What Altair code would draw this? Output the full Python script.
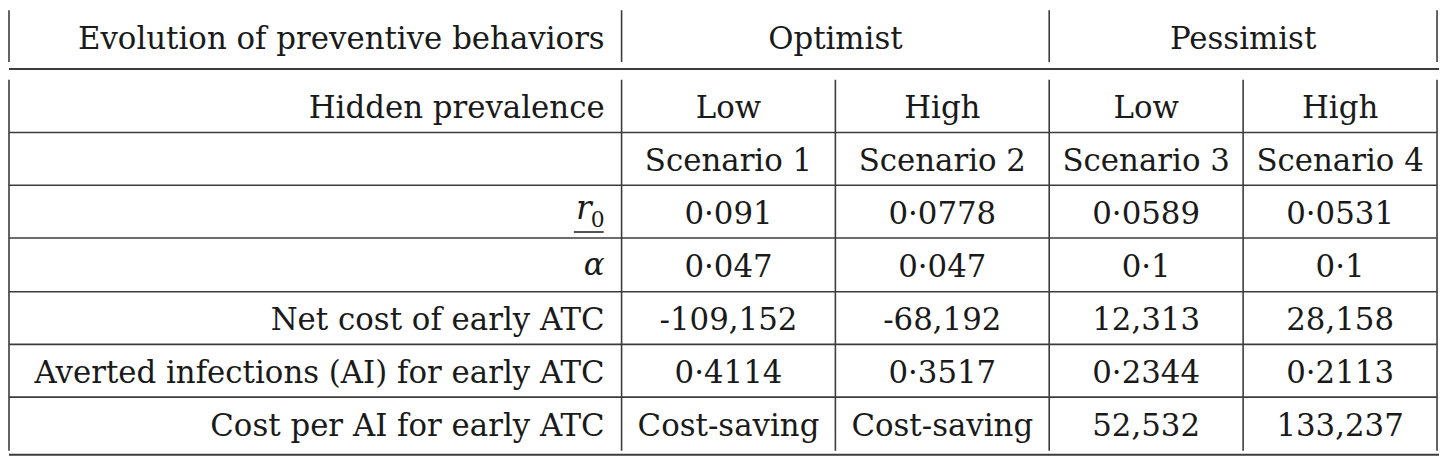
import altair as alt
import pandas as pd

# ---------------- data ----------------
header_title = "Evolution of preventive behaviors"
behavior_groups = ["Optimist", "Pessimist"]
prevalence_title = "Hidden prevalence"
prevalence = ["Low", "High", "Low", "High"]
scenarios = ["Scenario 1", "Scenario 2", "Scenario 3", "Scenario 4"]
r0_values = ["0·091", "0·0778", "0·0589", "0·0531"]
alpha_values = ["0·047", "0·047", "0·1", "0·1"]
net_cost_label = "Net cost of early ATC"
net_cost = ["-109,152", "-68,192", "12,313", "28,158"]
averted_label = "Averted infections (AI) for early ATC"
averted = ["0·4114", "0·3517", "0·2344", "0·2113"]
cost_per_ai_label = "Cost per AI for early ATC"
cost_per_ai = ["Cost-saving", "Cost-saving", "52,532", "133,237"]

# ---------------- layout (image pixel coordinates) ----------------
W, H = 1445, 450
col_edges = [5, 625, 840, 1055, 1250, 1445]
head_top, head_bot, head_rule = 9, 61, 68
row_edges = [79, 132, 185, 238, 292, 345, 398, 452]
bottom_rule = 456
label_right = 608
FONT = "DejaVu Serif"
FS = 31
TXT = "#1a1a1a"
LINE = "#3c3c3c"
cap_off = 12

xs = alt.Scale(domain=[8, 8 + W], nice=False, zero=False)
ys = alt.Scale(domain=[8, 8 + H], nice=False, zero=False, reverse=True)

# lines
rules = []
for x in [col_edges[0], col_edges[1], col_edges[3], col_edges[5]]:
    rules.append(dict(x=x, x2=x, y=head_top, y2=head_bot, w=1.6))
for x in col_edges:
    rules.append(dict(x=x, x2=x, y=row_edges[0], y2=row_edges[-1], w=1.6))
for y in row_edges[1:-1]:
    rules.append(dict(x=col_edges[0], x2=col_edges[-1], y=y, y2=y, w=1.6))
rules.append(dict(x=col_edges[0] - 1, x2=col_edges[-1] + 2, y=head_rule, y2=head_rule, w=2.0))
rules.append(dict(x=col_edges[0] - 1, x2=col_edges[-1] + 2, y=bottom_rule, y2=bottom_rule, w=2.0))
rules_df = pd.DataFrame(rules)
rules_df["x"] = rules_df["x"].clip(lower=9)
rules_df["x2"] = rules_df["x2"].clip(lower=9)

rule_layer = alt.Chart(rules_df).mark_rule(color=LINE).encode(
    x=alt.X("x:Q", scale=xs, axis=None),
    x2="x2:Q",
    y=alt.Y("y:Q", scale=ys, axis=None),
    y2="y2:Q",
    strokeWidth=alt.StrokeWidth("w:Q", scale=None),
)

# centered text cells
centers = [(col_edges[i] + col_edges[i + 1]) / 2 for i in range(1, 5)]
row_c = [(row_edges[i] + row_edges[i + 1]) / 2 for i in range(7)]
head_c = (head_top + head_bot) / 2 + 1

cells = []
cells.append(dict(t=behavior_groups[0], x=(col_edges[1] + col_edges[3]) / 2, y=head_c + cap_off))
cells.append(dict(t=behavior_groups[1], x=(col_edges[3] + col_edges[5]) / 2, y=head_c + cap_off))
body_rows = [prevalence, scenarios, r0_values, alpha_values, net_cost, averted, cost_per_ai]
for r, vals in enumerate(body_rows):
    for c, v in enumerate(vals):
        cells.append(dict(t=v, x=centers[c], y=row_c[r] + cap_off))
cells_df = pd.DataFrame(cells)

center_layer = alt.Chart(cells_df).mark_text(
    font=FONT, fontSize=FS, align="center", baseline="alphabetic", color=TXT
).encode(
    x=alt.X("x:Q", scale=xs, axis=None),
    y=alt.Y("y:Q", scale=ys, axis=None),
    text="t:N",
)

# right-aligned label column
labels = [
    dict(t=header_title, x=label_right, y=head_c + cap_off),
    dict(t=prevalence_title, x=label_right, y=row_c[0] + cap_off),
    dict(t=net_cost_label, x=label_right, y=row_c[4] + cap_off),
    dict(t=averted_label, x=label_right, y=row_c[5] + cap_off),
    dict(t=cost_per_ai_label, x=label_right, y=row_c[6] + cap_off),
]
labels_df = pd.DataFrame(labels)
label_layer = alt.Chart(labels_df).mark_text(
    font=FONT, fontSize=FS, align="right", baseline="alphabetic", color=TXT
).encode(
    x=alt.X("x:Q", scale=xs, axis=None),
    y=alt.Y("y:Q", scale=ys, axis=None),
    text="t:N",
)

# math labels: r_0 (underlined) and alpha
math_df = pd.DataFrame([
    dict(t="r", x=label_right - 13, y=row_c[2] + 7, s=FS + 2),
    dict(t="α", x=label_right, y=row_c[3] + 10, s=FS),
])
math_layer = alt.Chart(math_df).mark_text(
    font=FONT, fontStyle="italic", align="right", baseline="alphabetic", color=TXT
).encode(
    x=alt.X("x:Q", scale=xs, axis=None),
    y=alt.Y("y:Q", scale=ys, axis=None),
    text="t:N",
    size=alt.Size("s:Q", scale=None),
)
sub_df = pd.DataFrame([dict(t="0", x=label_right, y=row_c[2] + 15)])
sub_layer = alt.Chart(sub_df).mark_text(
    font=FONT, fontSize=22, align="right", baseline="alphabetic", color=TXT
).encode(
    x=alt.X("x:Q", scale=xs, axis=None),
    y=alt.Y("y:Q", scale=ys, axis=None),
    text="t:N",
)
ul_df = pd.DataFrame([dict(x=label_right - 31, x2=label_right - 1, y=row_c[2] + 20.5)])
ul_layer = alt.Chart(ul_df).mark_rule(color=TXT, strokeWidth=1.5).encode(
    x=alt.X("x:Q", scale=xs, axis=None),
    x2="x2:Q",
    y=alt.Y("y:Q", scale=ys, axis=None),
)

chart = alt.layer(
    rule_layer, center_layer, label_layer, math_layer, sub_layer, ul_layer
).properties(
    width=W, height=H, padding=0, autosize=alt.AutoSizeParams(type="none"),
    background="white",
).configure_view(stroke=None)

chart.save("out.html", embed_options={"renderer": "svg", "actions": False})
